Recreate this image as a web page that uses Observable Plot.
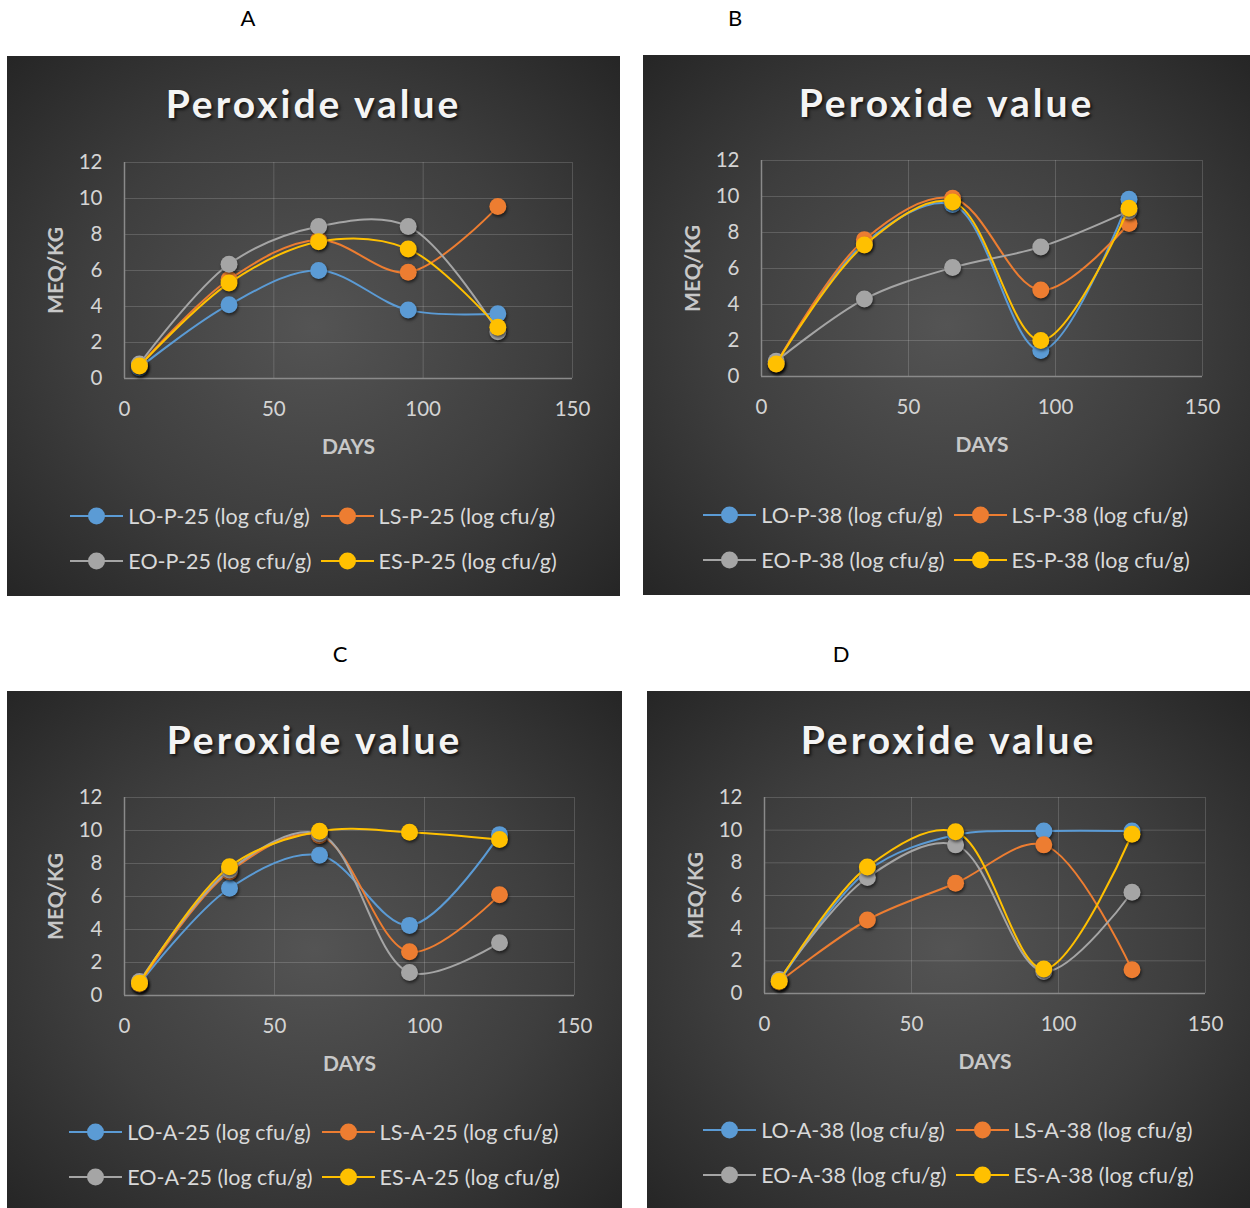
<!DOCTYPE html>
<html>
<head>
<meta charset="utf-8">
<script src="https://cdn.jsdelivr.net/npm/d3@7"></script>
<script src="https://cdn.jsdelivr.net/npm/@observablehq/plot@0.6"></script>
<style>
  html, body { margin: 0; padding: 0; background: #ffffff; }
  body { width: 1250px; height: 1208px; position: relative; overflow: hidden; font-family: Lato, "Open Sans", sans-serif; }
  .panel-letter { position: absolute; font-size: 22px; color: #000; transform: translate(-50%, -50%); }
  .panel { position: absolute; overflow: hidden;
    background: radial-gradient(ellipse 70% 70% at 50% 50%, #545454 0%, #3e3e3e 55%, #262626 100%); }
  .panel svg { position: absolute; left: 0; top: 0; }
  .panel svg g[aria-label="dot"] { filter: drop-shadow(1.5px 2px 1.5px rgba(0,0,0,0.55)); }
  .title { position: absolute; left: 0; right: 0; text-align: center; font-weight: 700; font-size: 39px;
    letter-spacing: 3px; color: #f4f4f4; text-shadow: 2px 2px 3px rgba(0,0,0,0.65); transform: translateY(-50%); }
  .legend { position: absolute; left: 0; right: 0; display: grid; grid-template-columns: auto auto;
    justify-content: center; column-gap: 9px; row-gap: 17px; font-size: 21.5px; color: #d9d9d9; }
  .legend .item { display: flex; align-items: center; height: 28px; white-space: nowrap; }
  .legend svg { position: static; margin-right: 5px; }
</style>
</head>
<body>
<script>
// Storage days shared by every panel
const days = [5, 35, 65, 95, 125];

// Sample groups, in drawing order
const groups = ["LO", "LS", "EO", "ES"];

// Panel letters and the condition code used in the legend names
const panelLetters = ["A", "B", "C", "D"];
const conditions = ["P-25", "P-38", "A-25", "A-38"];

// Peroxide value (meq/kg), one row per group: LO, LS, EO, ES
const peroxideA = [
  [0.6, 4.1, 6.0, 3.8, 3.6],
  [0.7, 5.5, 7.7, 5.9, 9.55],
  [0.8, 6.35, 8.45, 8.45, 2.6],
  [0.7, 5.3, 7.6, 7.2, 2.85]
];
const peroxideB = [
  [0.7, 7.4, 9.55, 1.45, 9.85],
  [0.7, 7.6, 9.9, 4.8, 8.5],
  [0.85, 4.3, 6.05, 7.2, 9.2],
  [0.7, 7.3, 9.7, 2.0, 9.35]
];
const peroxideC = [
  [0.7, 6.5, 8.5, 4.25, 9.75],
  [0.7, 7.5, 9.7, 2.65, 6.1],
  [0.85, 7.6, 9.8, 1.4, 3.2],
  [0.75, 7.8, 9.95, 9.9, 9.45]
];
const peroxideD = [
  [0.7, 7.5, 9.7, 9.95, 9.95],
  [0.7, 4.5, 6.75, 9.1, 1.45],
  [0.85, 7.1, 9.1, 1.35, 6.2],
  [0.75, 7.75, 9.9, 1.5, 9.75]
];

// Axis ticks
const xTicks = [0, 50, 100, 150];
const yTicks = [0, 2, 4, 6, 8, 10, 12];

const chartTitle = "Peroxide value";
const xTitle = "DAYS";
const yTitle = "MEQ/KG";
const unitSuffix = "(log cfu/g)";

// Office palette for the four groups
const groupColors = ["#5b9bd5", "#ed7d31", "#a5a5a5", "#ffc000"];

// Page layout of each panel box and its plotting frame
const layouts = [
  {left: 7,   top: 56,  width: 613, height: 540, ml: 117, mr: 48, mt: 106, mb: 218, letter: [248, 17],  titleY: 47, legendY: 446},
  {left: 643, top: 55,  width: 607, height: 540, ml: 118, mr: 48, mt: 105, mb: 219, letter: [735, 17],  titleY: 47, legendY: 446},
  {left: 7,   top: 691, width: 615, height: 517, ml: 117, mr: 48, mt: 106, mb: 213, letter: [340, 653], titleY: 48, legendY: 427},
  {left: 647, top: 691, width: 603, height: 517, ml: 117, mr: 45, mt: 106, mb: 215, letter: [841, 653], titleY: 48, legendY: 425}
];

const allValues = [peroxideA, peroxideB, peroxideC, peroxideD];

function legendSwatch(color) {
  const ns = "http://www.w3.org/2000/svg";
  const svg = document.createElementNS(ns, "svg");
  svg.setAttribute("width", 53);
  svg.setAttribute("height", 20);
  const line = document.createElementNS(ns, "line");
  line.setAttribute("x1", 0); line.setAttribute("x2", 53);
  line.setAttribute("y1", 10); line.setAttribute("y2", 10);
  line.setAttribute("stroke", color); line.setAttribute("stroke-width", 2);
  const c = document.createElementNS(ns, "circle");
  c.setAttribute("cx", 26.5); c.setAttribute("cy", 10); c.setAttribute("r", 8.5);
  c.setAttribute("fill", color);
  svg.append(line, c);
  return svg;
}

allValues.forEach((values, p) => {
  const L = layouts[p];

  const letter = document.createElement("div");
  letter.className = "panel-letter";
  letter.style.left = L.letter[0] + "px";
  letter.style.top = L.letter[1] + "px";
  letter.textContent = panelLetters[p];
  document.body.append(letter);

  const panel = document.createElement("div");
  panel.className = "panel";
  Object.assign(panel.style, {left: L.left + "px", top: L.top + "px", width: L.width + "px", height: L.height + "px"});
  document.body.append(panel);

  const rows = [];
  groups.forEach((g, i) => {
    days.forEach((d, j) => rows.push({group: `${g}-${conditions[p]} ${unitSuffix}`, idx: i, day: d, value: values[i][j]}));
  });

  const gridStroke = "#ffffff";
  const seriesMarks = groups.flatMap((g, i) => {
    const subset = rows.filter(r => r.idx === i);
    return [
      Plot.line(subset, {x: "day", y: "value", stroke: groupColors[i], strokeWidth: 2, curve: "catmull-rom"}),
      Plot.dot(subset, {x: "day", y: "value", fill: groupColors[i], r: 8.5})
    ];
  });

  const chart = Plot.plot({
    width: L.width,
    height: L.height,
    marginLeft: L.ml,
    marginRight: L.mr,
    marginTop: L.mt,
    marginBottom: L.mb,
    style: {background: "transparent", color: "#d4d4d4", fontFamily: "Lato, 'Open Sans', sans-serif", fontSize: "20.5px", overflow: "visible"},
    x: {domain: [0, 150]},
    y: {domain: [0, 12]},
    marks: [
      Plot.gridX(xTicks.slice(1), {stroke: gridStroke, strokeOpacity: 0.16, strokeWidth: 1}),
      Plot.gridY(yTicks.slice(1), {stroke: gridStroke, strokeOpacity: 0.16, strokeWidth: 1}),
      Plot.ruleX([0], {stroke: "#8a8a8a", strokeWidth: 1.5}),
      Plot.ruleY([0], {stroke: "#8a8a8a", strokeWidth: 1.5}),
      Plot.axisX(xTicks, {tickSize: 0, tickPadding: 23, label: null, fill: "#d4d4d4"}),
      Plot.axisY(yTicks, {tickSize: 0, tickPadding: 22, label: null, fill: "#d4d4d4"}),
      ...seriesMarks,
      Plot.text([xTitle], {frameAnchor: "bottom", dy: 75, fontWeight: "bold", fontSize: 21, fill: "#c8c8c8"}),
      Plot.text([yTitle], {frameAnchor: "left", textAnchor: "middle", dx: -68, rotate: -90, fontWeight: "bold", fontSize: 21, fill: "#c8c8c8"})
    ]
  });
  panel.append(chart);

  const title = document.createElement("div");
  title.className = "title";
  title.style.top = L.titleY + "px";
  title.textContent = chartTitle;
  panel.append(title);

  const legend = document.createElement("div");
  legend.className = "legend";
  legend.style.top = L.legendY + "px";
  groups.forEach((g, i) => {
    const item = document.createElement("div");
    item.className = "item";
    item.append(legendSwatch(groupColors[i]));
    const span = document.createElement("span");
    span.textContent = `${g}-${conditions[p]} ${unitSuffix}`;
    item.append(span);
    legend.append(item);
  });
  panel.append(legend);
});
</script>
</body>
</html>
